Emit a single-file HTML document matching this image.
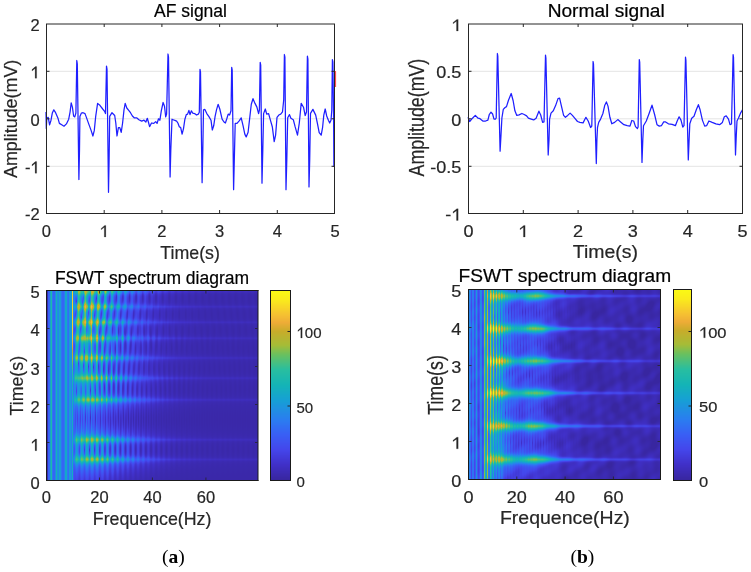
<!DOCTYPE html>
<html><head><meta charset="utf-8">
<style>
html,body{margin:0;padding:0;background:#fff;}
#root{position:relative;width:751px;height:572px;overflow:hidden;background:#fff;}
svg{position:absolute;left:0;top:0;}
canvas{position:absolute;}
text{font-family:"Liberation Sans",sans-serif;fill:#262626;stroke:#262626;stroke-width:0.2px;}
.t{stroke:#000;}
.cap{stroke:none;}
.t{font-size:17.5px;fill:#000;}
.k{font-size:16.5px;}
.l{font-size:17.8px;}
.cap{font-family:"Liberation Serif",serif;font-size:19.5px;fill:#000;}
</style></head><body>
<div id="root">
<canvas id="s1" width="212" height="190" style="left:46px;top:290px;width:212px;height:190px;background:linear-gradient(to right,rgb(54,82,219) 0.0%,rgb(44,120,237) 7.2%,rgb(49,144,199) 14.4%,rgb(61,145,187) 21.5%,rgb(50,120,214) 28.7%,rgb(50,103,224) 35.9%,rgb(58,82,227) 43.1%,rgb(63,61,214) 49.8%,rgb(62,48,195) 56.9%,rgb(60,44,182) 64.1%,rgb(59,42,178) 71.3%,rgb(58,41,173) 100.0%)"></canvas>
<canvas id="c1" width="20" height="190" style="left:270px;top:290px;width:20px;height:190px;background:linear-gradient(to bottom,rgb(250,248,21) 0.0%,rgb(248,214,39) 8.5%,rgb(238,172,55) 16.5%,rgb(182,180,49) 25.0%,rgb(107,192,94) 33.5%,rgb(42,190,158) 41.5%,rgb(20,179,183) 50.0%,rgb(23,158,214) 58.5%,rgb(39,131,235) 66.5%,rgb(55,99,244) 75.0%,rgb(67,72,236) 83.5%,rgb(64,50,203) 91.5%,rgb(56,38,160) 100.0%)"></canvas>
<canvas id="s2" width="193" height="191" style="left:468px;top:289px;width:193px;height:191px;background:linear-gradient(to right,rgb(49,106,234) 0.0%,rgb(59,134,198) 7.4%,rgb(61,162,175) 14.2%,rgb(48,119,222) 21.6%,rgb(52,103,225) 28.4%,rgb(57,106,215) 35.8%,rgb(58,76,216) 42.6%,rgb(61,55,199) 50.0%,rgb(61,48,191) 57.4%,rgb(60,45,184) 64.2%,rgb(58,42,174) 100.0%)"></canvas>
<canvas id="c2" width="19" height="191" style="left:673px;top:289px;width:19px;height:191px;background:linear-gradient(to bottom,rgb(250,248,21) 0.0%,rgb(248,214,39) 8.5%,rgb(238,172,55) 16.5%,rgb(182,180,49) 25.0%,rgb(107,192,94) 33.5%,rgb(42,190,158) 41.5%,rgb(20,179,183) 50.0%,rgb(23,158,214) 58.5%,rgb(39,131,235) 66.5%,rgb(55,99,244) 75.0%,rgb(67,72,236) 83.5%,rgb(64,50,203) 91.5%,rgb(56,38,160) 100.0%)"></canvas>
<svg width="751" height="572" viewBox="0 0 751 572">
<g stroke="#e4e4e4" stroke-width="1" fill="none">
<path d="M47 71.3H334M47 118.8H334M47 166.3H334"/>
<path d="M469 71.3H742M469 118.8H742M469 166.3H742"/>
</g>
<polyline points="46,112 46.3,128.6 46.8,118.3 48.2,117.4 49.6,124.8 51,120.2 52.4,112.7 53.8,109.9 55.6,112.7 58,118.3 59.4,123.4 61.7,124.8 64,126.2 66.4,123.9 68.7,119.2 70.1,111.8 71.2,102.9 72.4,107.1 73.6,116 74.8,116.9 75.9,113 76.8,60.5 77.3,64 78.9,179.5 79.5,150 79.9,116.4 81.3,113.2 83.1,112.7 85,113.6 86.4,117.4 88.7,123.9 91.1,130.4 92.9,136 94.3,130.4 95.7,116.4 97.6,103.4 99.9,105.3 102.7,109 104.6,111.3 105.5,113.6 106.5,66.1 107,69 108.5,192.3 109.1,160 109.7,116.4 112,112.7 114.7,115.5 115.8,123 117,136 118.4,127.6 119.8,127.6 121.2,132.3 122.6,123 124,109.9 125.2,103.4 126.8,108 129.1,110.8 130.5,112.7 132.4,116 134.2,117.8 136.6,117.8 138.9,119.7 141.7,121.1 144,120.2 145.9,122 147.3,118.3 148.4,122 149.6,126.7 151.5,123 153.8,123.4 155.7,121.6 157.1,123.4 158.5,118.8 159.9,120.2 161.3,110.8 163.1,102.5 164.5,106.2 165.7,116.9 166.6,114 168,54 168.5,57 170.1,177 170.8,150 172,119.2 174.3,120.2 176.6,121.1 177.9,123 179.3,126.7 180.7,127.6 182.1,134.1 183.5,128.6 184.9,119.2 186.3,114.6 187.6,114.1 188.9,110.4 190,114.6 191.4,110.8 192.8,113.2 194.6,113.6 196.5,115 198.4,114.1 199.3,112.2 200,69.4 200.5,72 202.1,182.7 202.8,150 203.5,109.9 204.9,109.4 206.8,113.6 209.1,116.9 211,120.2 212.3,130 213.7,125.8 215.1,116.4 216.5,109.9 218.1,104.3 219.8,109 222.1,119.2 224,122 225.4,123 226.8,118.8 228.2,114.1 229.6,115 231,110.8 231.7,67.4 232.2,70 233.6,189.7 234.3,160 235.2,123.4 237,123.4 239.4,120.6 241.2,117.8 243.1,125.8 244.8,134.1 246.2,136.9 248.1,132.3 249.9,116.4 251.3,104.3 253,98.7 255,103.4 256.9,107.1 258.6,113.6 259.4,110 260.2,62.4 260.7,65 262,183.2 262.8,150 263.6,113.6 265.3,109 266.7,114.1 268.6,113.6 270.4,120.2 272.3,126.7 274.2,141.6 275.6,135.1 277,117.4 278.8,115 280.7,114.1 282.5,111.8 283.7,100 284.4,54.5 284.9,57 286,189.7 286.8,160 287.7,117.8 289.5,114.6 290.9,118.3 293.3,119.7 295.1,126.7 297.5,135.1 299.3,123 301.2,103.4 303.5,107.2 305.2,115.5 306.5,112 307.4,56.2 307.9,59 309,186.9 309.7,160 310.5,113.4 312.9,109.4 315.7,115.1 317.5,123.8 319.2,132.6 321.2,135.2 322.6,127.3 323.8,115.1 325.2,109 326.7,116 328.4,120.3 329.7,123 331,120.3 331.8,110 332.4,59.6 332.9,62 333.6,120 333.9,167" fill="none" stroke="#1f1fff" stroke-width="1.25" stroke-linejoin="round"/>
<path d="M335.5 71V87" stroke="#ff5050" stroke-width="1.2"/>
<polyline points="468,117.3 469.7,121.5 472.5,118.2 475.3,115.4 478.1,118.2 480,118.7 482.8,121 485.6,121 487.9,120.1 489.3,114.5 491,112.2 492.6,114 494,119.1 495.4,119.1 496.2,118 497.4,53.5 497.8,56 500.1,151.2 501,135 501.9,118 503.3,109.4 505.1,107.5 506.5,106.6 508.4,100.5 511.2,93.5 513.1,100.5 514.9,110.8 516.8,115.4 519.1,114.9 521.9,113.5 524.2,114.5 526.6,115.9 528.4,118.2 531.2,119.1 533.7,119.9 536.1,118.2 538.9,111.2 540.7,115 542.6,122.4 544,121.9 545.5,55.2 545.9,58 548.2,155 549,140 549.6,119.1 551,113.1 553.3,110.8 555.6,105.6 558,98.6 559.6,98.2 561.2,105.2 563.6,115.4 565.4,117.3 567.7,115.4 570.1,113.1 572.4,115.4 574.7,118.2 577.5,121.5 579.9,122.4 583.1,122.9 585.9,117.3 588.2,121 590.6,127.5 591.8,126 593.1,61.5 593.5,64 596.3,163.6 596.9,140 597.5,127.5 598.7,122.4 600.6,119.1 602.9,113.5 604.8,105.2 606.4,101.9 608,106.1 609.9,117.3 611.8,123.8 614.6,122.4 617.8,119.6 620.6,121.9 623.9,124.7 627.2,125.7 630,126.1 631.8,120.5 633.7,121 635.5,126.6 637.4,128.5 638.1,127 639.3,59.6 639.7,62 642,162.4 642.8,140 643.5,125.7 646.3,121 649.1,113.5 652,105.2 654.6,114.5 657,124.7 659.3,126.1 661.4,125.7 663.7,121.9 665.6,121.9 668.4,123.8 672.1,124.3 675.4,125.7 677.2,121 679.1,116.8 681,120.1 682.8,127.1 684,125.7 685.5,57.1 685.9,60 688.3,159.9 689.1,140 689.8,123.8 691.7,118.2 694,116.3 696.3,109.8 698.4,104.7 700.1,109.8 702.4,120.1 704.7,126.1 706.6,125.7 708.9,121 712.2,122.4 715.9,123.8 719.6,124.7 722.4,122.4 724.3,116.8 726.2,115.9 728.5,119.1 730,124.7 731.5,124 733.1,54.7 733.5,57 735.5,155 736.3,135 737,121 738.5,118 740.4,113.4 742.5,109.7" fill="none" stroke="#1f1fff" stroke-width="1.25" stroke-linejoin="round"/>
<g stroke="#262626" stroke-width="1" fill="none">
<path d="M46.5 24V213.5M334.5 24V213.5M46 24H335M46 213.5H335"/>
<path d="M104.2 213V210M161.9 213V210M219.6 213V210M277.3 213V210M104.2 24V27M161.9 24V27M219.6 24V27M277.3 24V27"/>
<path d="M47 71.3H49.5M47 118.8H49.5M47 166.3H49.5M334 71.3H331.5M334 118.8H331.5M334 166.3H331.5"/>
<path d="M468.5 24V213.5M742.5 24V213.5M468 24H743M468 213.5H743"/>
<path d="M523.3 213V210M578.1 213V210M632.9 213V210M687.7 213V210M523.3 24V27M578.1 24V27M632.9 24V27M687.7 24V27"/>
<path d="M469 71.3H471.5M469 118.8H471.5M469 166.3H471.5M742 71.3H739.5M742 118.8H739.5M742 166.3H739.5"/>
</g>
<g stroke="#1a1a1a" stroke-width="1" fill="none">
<path d="M46.5 290V481M46 290.5H258.5M258 290V481M46 480.5H258.5"/>
<path d="M270.5 290V481M290.5 290V481M270 290.5H291M270 480.5H291"/>
<path d="M468.5 289V480M468 289.5H661M660.5 289V480M468 479.5H661"/>
<path d="M673.5 289V481M691.5 289V481M673 289.5H692M673 480.5H692"/>
</g>
<g stroke="#262626" stroke-width="0.8">
<path d="M99.5 291V293.5M152.4 291V293.5M205.9 291V293.5M99.5 480V477.5M152.4 480V477.5M205.9 480V477.5"/>
<path d="M47 328.5H49.5M47 366.5H49.5M47 404.5H49.5M47 442.5H49.5M257.5 328.5H255M257.5 366.5H255M257.5 404.5H255M257.5 442.5H255"/>
<path d="M516.8 290V292.5M565.1 290V292.5M613.4 290V292.5M516.8 479V476.5M565.1 479V476.5M613.4 479V476.5"/>
<path d="M469 327.5H471.5M469 365.5H471.5M469 403.5H471.5M469 441.5H471.5M660 327.5H657.5M660 365.5H657.5M660 403.5H657.5M660 441.5H657.5"/>
</g>
<g stroke="#262626" stroke-width="1">
<path d="M290 331.5H287.5M290 406H287.5"/>
<path d="M691 331.5H688.5M691 406H688.5"/>
</g>
<text class="t" x="190.5" y="17" text-anchor="middle">AF signal</text>
<g transform="translate(606.2 0) scale(1.095 1) translate(-606.2 0)"><text class="t" x="606.2" y="16.8" text-anchor="middle">Normal signal</text></g>
<g class="k" text-anchor="end">
<text x="39.6" y="31">2</text><text x="39.6" y="78.2">1</text><text x="39.6" y="125.7">0</text><text x="39.6" y="173.2">-1</text><text x="39.6" y="220.4">-2</text>
</g>
<g class="k" text-anchor="middle">
<text x="46.3" y="237">0</text><text x="104.2" y="237">1</text><text x="161.9" y="237">2</text><text x="219.6" y="237">3</text><text x="277.3" y="237">4</text><text x="335" y="237">5</text>
</g>
<text class="l" x="190.1" y="259" text-anchor="middle">Time(s)</text>
<text class="l" style="font-size:17.9px" transform="translate(17.3 118.85) rotate(-90)" text-anchor="middle">Amplitude(mV)</text>
<g class="k" text-anchor="end" transform="translate(461.4 0) scale(1.095 1) translate(-461.4 0)">
<text x="461.4" y="31">1</text><text x="461.4" y="78.2">0.5</text><text x="461.4" y="125.7">0</text><text x="461.4" y="173.2">-0.5</text><text x="461.4" y="220.4">-1</text>
</g>
<g class="k" text-anchor="middle">
<g transform="translate(468.5 0) scale(1.095 1) translate(-468.5 0)"><text x="468.5" y="237">0</text></g>
<g transform="translate(523.3 0) scale(1.095 1) translate(-523.3 0)"><text x="523.3" y="237">1</text></g>
<g transform="translate(578.1 0) scale(1.095 1) translate(-578.1 0)"><text x="578.1" y="237">2</text></g>
<g transform="translate(632.9 0) scale(1.095 1) translate(-632.9 0)"><text x="632.9" y="237">3</text></g>
<g transform="translate(687.7 0) scale(1.095 1) translate(-687.7 0)"><text x="687.7" y="237">4</text></g>
<g transform="translate(742.5 0) scale(1.095 1) translate(-742.5 0)"><text x="742.5" y="237">5</text></g>
</g>
<g transform="translate(605.4 0) scale(1.095 1) translate(-605.4 0)"><text class="l" x="605.4" y="257.6" text-anchor="middle">Time(s)</text></g>
<text class="l" transform="translate(424.4 117.6) rotate(-90) scale(1 1.2)" text-anchor="middle">Amplitude(mV)</text>
<text class="t" x="152" y="283.7" text-anchor="middle">FSWT spectrum diagram</text>
<g class="k" text-anchor="end">
<text x="39.6" y="298.3">5</text><text x="39.6" y="336.4">4</text><text x="39.6" y="374.5">3</text><text x="39.6" y="412.6">2</text><text x="39.6" y="450.7">1</text><text x="39.6" y="488.6">0</text>
</g>
<g class="k" text-anchor="middle">
<text x="46.3" y="503">0</text><text x="99.5" y="503">20</text><text x="152.4" y="503">40</text><text x="205.9" y="503">60</text>
</g>
<text class="l" x="152.1" y="524.5" text-anchor="middle">Frequence(Hz)</text>
<text class="l" transform="translate(22.8 385.7) rotate(-90)" text-anchor="middle">Time(s)</text>
<g class="k" style="font-size:15px">
<text x="296.5" y="486.8">0</text><text x="296.5" y="412.5">50</text><text x="296.5" y="338">100</text>
</g>
<g transform="translate(564.9 0) scale(1.095 1) translate(-564.9 0)"><text class="t" x="564.9" y="282.5" text-anchor="middle">FSWT spectrum diagram</text></g>
<g class="k" text-anchor="end" transform="translate(461.4 0) scale(1.095 1) translate(-461.4 0)">
<text x="461.4" y="296.8">5</text><text x="461.4" y="334.8">4</text><text x="461.4" y="372.8">3</text><text x="461.4" y="410.8">2</text><text x="461.4" y="448.8">1</text><text x="461.4" y="486.8">0</text>
</g>
<g class="k" text-anchor="middle">
<g transform="translate(468.5 0) scale(1.095 1) translate(-468.5 0)"><text x="468.5" y="503">0</text></g>
<g transform="translate(516.8 0) scale(1.095 1) translate(-516.8 0)"><text x="516.8" y="503">20</text></g>
<g transform="translate(565.1 0) scale(1.095 1) translate(-565.1 0)"><text x="565.1" y="503">40</text></g>
<g transform="translate(613.4 0) scale(1.095 1) translate(-613.4 0)"><text x="613.4" y="503">60</text></g>
</g>
<g transform="translate(564.9 0) scale(1.095 1) translate(-564.9 0)"><text class="l" x="564.9" y="524" text-anchor="middle">Frequence(Hz)</text></g>
<text class="l" transform="translate(443.4 385) rotate(-90) scale(1 1.2)" text-anchor="middle">Time(s)</text>
<g class="k" style="font-size:15px" transform="translate(699 0) scale(1.1 1) translate(-699 0)">
<text x="699" y="486.6">0</text><text x="699" y="412.3">50</text><text x="699" y="337.8">100</text>
</g>
<text class="cap" x="173.3" y="563" text-anchor="middle">(<tspan font-weight="bold">a</tspan>)</text>
<text class="cap" x="582.4" y="563" text-anchor="middle">(<tspan font-weight="bold">b</tspan>)</text>
</svg>
</div>
<script>
(function(){
var S=[[0,56,38,160],[0.079,64,48,200],[0.158,68,70,235],[0.237,57,95,245],[0.316,42,125,240],[0.42,22,160,212],[0.5,20,180,182],[0.58,40,190,160],[0.66,105,192,95],[0.71,165,188,55],[0.784,200,172,42],[0.83,238,172,55],[0.87,245,192,50],[0.95,250,235,28],[1,250,250,20]];
function cmap(v){
  if(v<0)v=0; if(v>1)v=1;
  for(var i=1;i<S.length;i++){ if(v<=S[i][0]){var a=S[i-1],b=S[i],r=(v-a[0])/(b[0]-a[0]);return [a[1]+(b[1]-a[1])*r,a[2]+(b[2]-a[2])*r,a[3]+(b[3]-a[3])*r];} }
  return [250,250,20];
}
function draw(id,w,h,fn){
  var c=document.getElementById(id),ctx=c.getContext('2d'),im=ctx.createImageData(w,h),d=im.data;
  for(var y=0;y<h;y++)for(var x=0;x<w;x++){
    var col=cmap(fn(x+0.5,y+0.5)/127.5),k=(y*w+x)*4;
    d[k]=col[0];d[k+1]=col[1];d[k+2]=col[2];d[k+3]=255;
  }
  ctx.putImageData(im,0,0);
}
function G(x,s){return Math.exp(-x*x/(2*s*s));}
// colorbars
draw('c1',20,190,function(x,y){return (189.5-y)/189*127.5;});
draw('c2',19,191,function(x,y){return (190.5-y)/190*127.5;});
// piecewise linear
function PL(pts,x){ if(x<=pts[0][0])return pts[0][1]; for(var i=1;i<pts.length;i++){ if(x<=pts[i][0]){var a=pts[i-1],b=pts[i];return a[1]+(b[1]-a[1])*(x-a[0])/(b[0]-a[0]);} } return pts[pts.length-1][1]; }
function SS(a,b,x){var t=(x-a)/(b-a);t=t<0?0:t>1?1:t;return t*t*(3-2*t);}
function lines(L,u){var v=0;for(var i=0;i<L.length;i++){var d=(u-L[i][0])/L[i][2];v+=L[i][1]*Math.exp(-0.5*d*d);}return v;}
function spec(id,w,h,y0,pxHz,beats,amp,Apts,par,low){
  draw(id,w,h,function(x,y){
    var f=x/pxHz, t=(y0-y)/38;
    var T=par.kappa/Math.pow(Math.max(f,par.fmin),par.beta), sg=par.sgPts?PL(par.sgPts,f):par.sig*Math.min(1.5,Math.pow(par.fs/Math.max(f,1),par.sb));
    var re=0,im=0,inc=0;
    for(var k=0;k<beats.length;k++){
      var d=t-beats[k], g1=Math.exp(-d*d/(2*sg*sg)), g2=Math.exp(-Math.abs(d)/T);
      var hh=amp[k]*(par.c1*g1+par.c2*g2), ph=-2*Math.PI*f*par.pf*beats[k];
      re+=hh*Math.cos(ph); im+=hh*Math.sin(ph); inc+=hh;
    }
    var coh=Math.sqrt(re*re+im*im); var ln=0; if(par.lnPts){ var lw=par.lnw; for(var k2=0;k2<beats.length;k2++){var dd=(t-beats[k2])/lw; ln+=amp[k2]*Math.exp(-0.5*dd*dd);} ln*=PL(par.lnPts,f); }
    var pp=par.p2?par.p+(par.p2-par.p)*SS(par.pf0,par.pf1,f):par.p; var q=inc>1e-9?Math.pow(coh/inc,pp):0; var mid=PL(Apts,f)*inc*(1-par.m*(1-q));
    var wl=1-SS(par.lt0,par.lt1,x);
    if(mid>par.kn) mid=par.kn+par.kw*Math.tanh((mid-par.kn)/par.kw); var v=par.bg + wl*low(x,t) + (1-wl)*(mid+ln) + (par.ex?lines(par.ex,x):0); if(par.noise){ v+=par.noise*(0.6*Math.sin(x*0.19+Math.sin(y*0.07)*2.1)*Math.sin(y*0.16+Math.cos(x*0.09)*1.7)+0.4*Math.sin(x*0.43+y*0.21+1.3)*Math.cos(y*0.27-x*0.11)); } return v;
  });
}
var bAF=[0.54,1.06,2.11,2.68,3.21,3.73,4.15,4.56,4.96];
var LAF=[[5.2,40,0.7],[10.5,30,0.8],[13.8,25,1.0],[20,30,0.9],[24,25,0.7]];
spec('s1',212,190,190,2.665,bAF,[1,1,1,1,1,1,1,1,1],[[0,60],[10,60],[12,64],[14,72],[16,78],[18,82],[22,76],[26,62],[30,46],[35,31],[40,19],[45,11],[50,7],[60,4],[80,3]],
  {kappa:1.3,beta:0.4,fmin:2,sig:0.07,fs:15,sb:0.3,c1:0.35,c2:0.65,kn:72,kw:45,bg:2,m:0.85,p:0.8,p2:1.8,pf0:14,pf1:26,pf:1,lt0:26,lt1:30,lnw:0.02,lnPts:[[35,0],[45,3],[80,2]]},
  function(x,t){ if(x<2.5) return 3+10*SS(1.5,2.5,x); var v=30+lines(LAF,x); var d=(x-26.3)/0.45; v+=(32+62*SS(2.3,4.0,t))*Math.exp(-0.5*d*d); return v; });
var bN=[0.526,1.405,2.274,3.117,3.967,4.828];
var LN=[[1.9,30,0.6],[5,26,0.7],[8.5,30,0.7],[12.9,30,0.8]];
spec('s2',193,191,190.5,2.413,bN,[1,1,1,1,1,1],[[0,40],[7,42],[9,50],[11,61],[13,71],[15,74],[17,66],[19,56],[21,54],[23,61],[25,71],[28,77],[31,70],[34,50],[38,30],[45,16],[55,9],[80,6]],
  {kappa:9.6,beta:1,fmin:4,sig:0.1,fs:12,sb:0.45,c1:0.6,c2:0.45,kn:80,kw:45,bg:3,m:0.7,p:0.6,pf:1,lt0:16,lt1:22,noise:6,sgPts:[[8,0.1],[14,0.09],[22,0.08],[28,0.08],[34,0.06],[42,0.035],[60,0.026],[80,0.022]],lnw:0.032,lnPts:[[30,0],[40,12],[55,9],[80,5]],ex:[[16.8,72,0.65],[19.4,60,0.65],[22.9,48,0.7],[25.6,36,0.65],[28.4,28,0.6],[31.2,22,0.6],[34,15,0.6]]},
  function(x,t){ if(x<1) return 8; return 16+lines(LN,x); });
})();

// replace Liberation "1" glyphs (with foot) by Arial-like "1" paths
(function(){
  var svg=document.querySelector('svg'), NS=svg.namespaceURI;
  var texts=Array.prototype.slice.call(document.querySelectorAll('g.k text'));
  texts.forEach(function(t){
    var s=t.textContent; if(s.indexOf('1')<0) return;
    var fs=parseFloat(getComputedStyle(t).fontSize);
    var y=parseFloat(t.getAttribute('y'));
    var exts=[]; for(var i=0;i<s.length;i++){ if(s[i]==='1'){ var e=t.getExtentOfChar(i); exts.push(e); } }
    // rebuild text with hidden '1's
    while(t.firstChild) t.removeChild(t.firstChild);
    for(var i=0;i<s.length;i++){
      if(s[i]==='1'){ var sp=document.createElementNS(NS,'tspan'); sp.textContent='1'; sp.setAttribute('style','fill-opacity:0;stroke-opacity:0'); t.appendChild(sp); }
      else t.appendChild(document.createTextNode(s[i]));
    }
    exts.forEach(function(e){
      var x0=e.x, P=[[0.285,0],[0.378,0],[0.378,0.703],[0.305,0.703],[0.095,0.52],[0.095,0.435],[0.285,0.585]];
      var d='M'+P.map(function(p){return (x0+p[0]*fs).toFixed(2)+' '+(y-p[1]*fs).toFixed(2);}).join('L')+'Z';
      var path=document.createElementNS(NS,'path'); path.setAttribute('d',d); path.setAttribute('fill','#262626'); path.setAttribute('stroke','#262626'); path.setAttribute('stroke-width','0.2');
      t.parentNode.insertBefore(path,t);
    });
  });
})();
</script>
</body></html>
